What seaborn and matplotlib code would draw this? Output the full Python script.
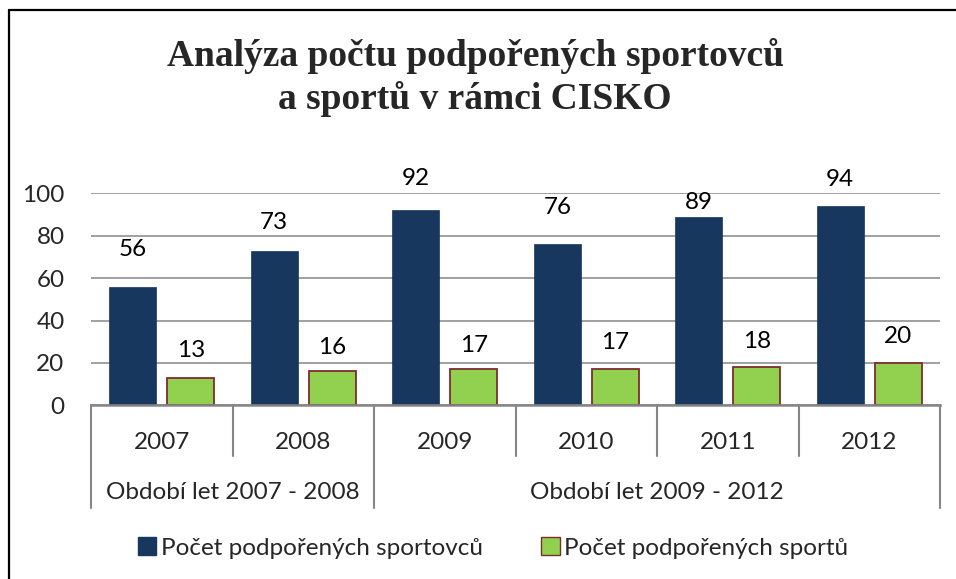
import pandas as pd
import seaborn as sns
import matplotlib.pyplot as plt
from matplotlib.lines import Line2D
from matplotlib.patches import Patch
import matplotlib.transforms as mtransforms

# data
years = ['2007', '2008', '2009', '2010', '2011', '2012']
athletes = [56, 73, 92, 76, 89, 94]        # Počet podpořených sportovců
sports = [13, 16, 17, 17, 18, 20]          # Počet podpořených sportů
periods = ['Období let 2007 - 2008', 'Období let 2009 - 2012']
period_spans = [(0, 2), (2, 6)]            # which year columns belong to each period
series_names = ['Počet podpořených sportovců', 'Počet podpořených sportů']
title_lines = ['Analýza počtu podpořených sportovců', 'a sportů v rámci CISKO']

# labels were nudged by hand in the original, offsets in pixels above bar top
athlete_label_dy = [37, 28, 32, 37, 14, 27]
sport_label_dy = [27, 24, 24, 27, 26, 26]

navy = '#17375E'
green = '#92D050'
green_edge = '#7E2D2D'
grid_grey = '#868686'
fs = 17.5

df = pd.DataFrame({
    'year': years * 2,
    'value': athletes + sports,
    'series': [series_names[0]] * len(years) + [series_names[1]] * len(years),
})

sns.set_style('white')
plt.rcParams['font.family'] = ['Lato', 'DejaVu Sans']

fig = plt.figure(figsize=(9.56, 5.79), dpi=100)
ax = fig.add_axes([0.0952, 0.300, 0.8881, 0.3661])

sns.barplot(data=df, x='year', y='value', hue='series', order=years,
            palette=[navy, green], width=0.82, gap=0.19, saturation=1,
            legend=False, ax=ax)

for bar in ax.containers[0]:
    bar.set_edgecolor(navy)
    bar.set_linewidth(0.5)
for bar in ax.containers[1]:
    bar.set_edgecolor(green_edge)
    bar.set_linewidth(1.3)

# value labels
for cont, vals, dys in [(ax.containers[0], athletes, athlete_label_dy),
                        (ax.containers[1], sports, sport_label_dy)]:
    for bar, v, dy in zip(cont, vals, dys):
        ax.annotate(str(v), (bar.get_x() + bar.get_width() / 2, v),
                    xytext=(0, dy), textcoords='offset pixels',
                    ha='center', va='center', fontsize=fs, color='black')

ax.set_ylim(0, 100)
ax.set_xlim(-0.5, len(years) - 0.5)
ax.set_yticks(range(0, 101, 20))
ax.yaxis.grid(True, color=grid_grey, linewidth=1.1)
ax.set_axisbelow(True)
ax.tick_params(axis='y', length=0, pad=19, labelsize=fs)
ax.set_xlabel('')
ax.set_ylabel('')
ax.set_xticks([])

for side in ['top', 'right', 'left']:
    ax.spines[side].set_visible(False)
ax.spines['bottom'].set_color(grid_grey)
ax.spines['bottom'].set_linewidth(1.8)

# two level category axis below the plot
trans = mtransforms.blended_transform_factory(ax.transData, ax.transAxes)
for i, y in enumerate(years):
    ax.text(i, -0.175, y, transform=trans, ha='center', va='center', fontsize=fs)

group_edges = set()
for (a, b), name in zip(period_spans, periods):
    ax.text((a + b - 1) / 2, -0.41, name, transform=trans,
            ha='center', va='center', fontsize=fs)
    group_edges.add(a)
    group_edges.add(b)

for k in range(len(years) + 1):
    bottom = -0.486 if k in group_edges else -0.241
    ax.add_line(Line2D([k - 0.5, k - 0.5], [0, bottom], transform=trans,
                       color=grid_grey, linewidth=1.5, clip_on=False))

# title, two lines placed by baseline
for line, yb in zip(title_lines, [0.886, 0.8126]):
    fig.text(0.497, yb, line, ha='center', va='baseline', fontsize=27,
             fontweight='bold', family='Liberation Serif')

# legend
handles = [Patch(facecolor=navy, edgecolor=navy),
           Patch(facecolor=green, edgecolor=green_edge, linewidth=1)]
fig.legend(handles, series_names, loc='center', bbox_to_anchor=(0.516, 0.0535),
           ncol=2, frameon=False, fontsize=fs, handlelength=0.75,
           handleheight=0.75, handletextpad=0.2, columnspacing=2.4)

# outer chart border (only left and top visible in the crop)
fig.add_artist(Line2D([0.0089, 0.0089], [0, 0.9825], transform=fig.transFigure,
                      color='black', linewidth=1.6))
fig.add_artist(Line2D([0.0089, 1.0], [0.9825, 0.9825], transform=fig.transFigure,
                      color='black', linewidth=1.6))

fig.savefig('out.png', dpi=100)
